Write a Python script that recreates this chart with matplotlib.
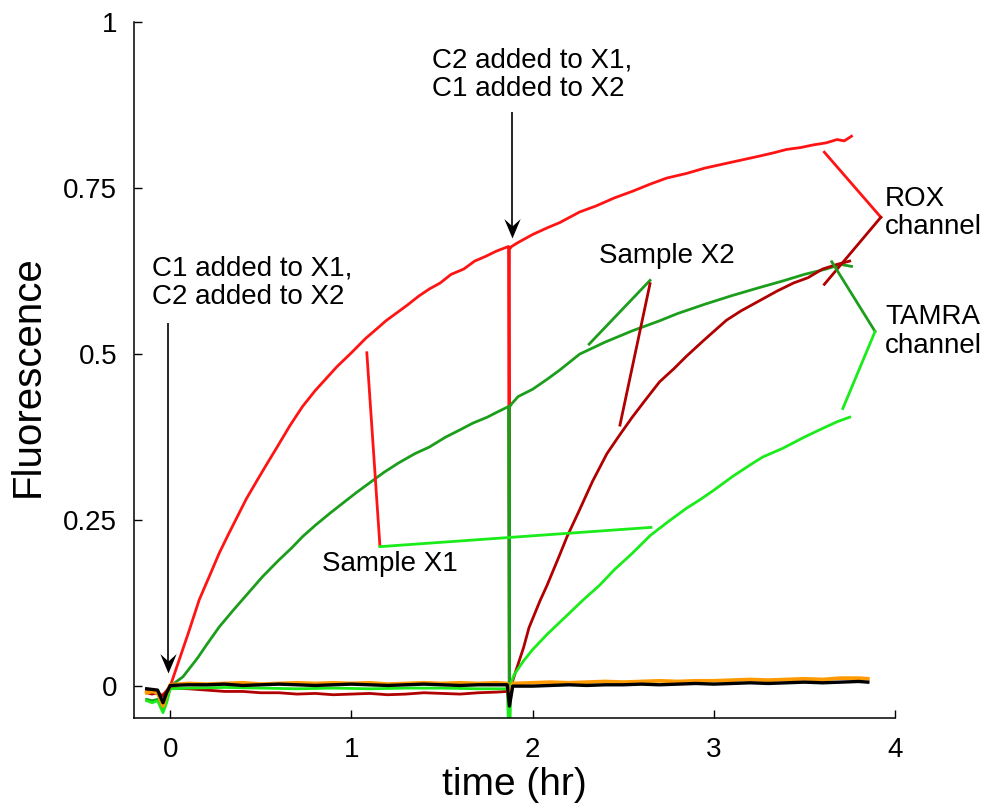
import matplotlib
matplotlib.use("Agg")
import matplotlib.pyplot as plt
from matplotlib.path import Path

plt.rcParams['font.family'] = ['Liberation Sans', 'DejaVu Sans']

# ---------------- data ----------------
rox_x1_t = [-0.13, -0.10, -0.07, -0.05, -0.03, 0.00, 0.05, 0.10, 0.16, 0.22, 0.27, 0.32, 0.37,
            0.42, 0.48, 0.53, 0.59, 0.66, 0.73, 0.80, 0.86, 0.92, 1.00, 1.08, 1.14, 1.19, 1.25,
            1.31, 1.37, 1.43, 1.49, 1.55, 1.62, 1.68, 1.74, 1.80, 1.867, 1.872, 1.872, 1.884, 1.92,
            2.00, 2.08, 2.15, 2.26, 2.35, 2.45, 2.55, 2.65, 2.74, 2.85, 2.95, 3.05, 3.15, 3.25,
            3.33, 3.40, 3.48, 3.55, 3.62, 3.68, 3.72, 3.76]
rox_x1_y = [-0.005, -0.006, -0.008, -0.015, -0.010, 0.000, 0.040, 0.080, 0.130, 0.168, 0.200,
            0.228, 0.255, 0.282, 0.310, 0.333, 0.360, 0.392, 0.421, 0.445, 0.463, 0.481, 0.502,
            0.524, 0.538, 0.550, 0.562, 0.574, 0.587, 0.598, 0.607, 0.620, 0.628, 0.640, 0.647,
            0.655, 0.662, -0.10, 0.658, 0.662, 0.668, 0.680, 0.690, 0.698, 0.714, 0.723, 0.735,
            0.745, 0.756, 0.765, 0.772, 0.780, 0.786, 0.792, 0.798, 0.803, 0.808, 0.811, 0.815,
            0.818, 0.823, 0.821, 0.828]

tamra_x1_t = [-0.13, -0.10, -0.07, -0.04, -0.02, 0.00, 0.07, 0.15, 0.20, 0.27, 0.35, 0.43, 0.51,
              0.60, 0.67, 0.73, 0.80, 0.88, 0.95, 1.03, 1.10, 1.18, 1.26, 1.35, 1.43, 1.52, 1.60,
              1.67, 1.75, 1.80, 1.867, 1.872, 1.872, 1.884, 1.92, 2.00, 2.08, 2.15, 2.26, 2.40,
              2.55, 2.70, 2.80, 2.95, 3.10, 3.25, 3.38, 3.50, 3.62, 3.70, 3.76]
tamra_x1_y = [-0.020, -0.022, -0.020, -0.035, -0.022, 0.000, 0.014, 0.042, 0.062, 0.089, 0.115,
              0.140, 0.165, 0.190, 0.208, 0.225, 0.242, 0.260, 0.275, 0.292, 0.306, 0.322, 0.336,
              0.350, 0.360, 0.375, 0.386, 0.396, 0.405, 0.412, 0.421, -0.10, 0.420, 0.425, 0.436,
              0.447, 0.462, 0.476, 0.500, 0.518, 0.535, 0.550, 0.561, 0.575, 0.588, 0.600, 0.610,
              0.620, 0.628, 0.635, 0.632]

rox_x2_t = [-0.13, -0.10, -0.07, -0.04, -0.02, 0.00, 0.10, 0.20, 0.30, 0.40, 0.50, 0.60, 0.70,
            0.80, 0.90, 1.00, 1.10, 1.20, 1.30, 1.40, 1.50, 1.60, 1.70, 1.80, 1.86, 1.875, 1.89,
            1.91, 1.95, 1.98, 2.04, 2.08, 2.15, 2.19, 2.26, 2.33, 2.41, 2.48, 2.55, 2.62, 2.70,
            2.78, 2.85, 2.95, 3.07, 3.15, 3.25, 3.35, 3.44, 3.52, 3.60, 3.68, 3.75]
rox_x2_y = [-0.010, -0.012, -0.010, -0.015, -0.008, -0.003, -0.004, -0.006, -0.008, -0.008, -0.010,
            -0.010, -0.012, -0.011, -0.013, -0.012, -0.011, -0.013, -0.012, -0.010, -0.011, -0.012,
            -0.010, -0.009, -0.008, -0.005, 0.008, 0.025, 0.058, 0.088, 0.128, 0.152, 0.198, 0.225,
            0.266, 0.308, 0.350, 0.378, 0.405, 0.430, 0.458, 0.478, 0.497, 0.522, 0.551, 0.565,
            0.580, 0.595, 0.607, 0.615, 0.628, 0.635, 0.640]

tamra_x2_t = [-0.13, -0.10, -0.07, -0.04, -0.02, 0.00, 0.10, 0.30, 0.50, 0.70, 0.90, 1.10, 1.30,
              1.50, 1.70, 1.86, 1.872, 1.88, 1.90, 1.95, 2.00, 2.08, 2.18, 2.28, 2.37, 2.45, 2.55,
              2.65, 2.75, 2.85, 2.92, 3.00, 3.10, 3.20, 3.27, 3.38, 3.50, 3.60, 3.68, 3.75]
tamra_x2_y = [-0.022, -0.025, -0.022, -0.040, -0.025, -0.004, -0.003, -0.002, -0.003, -0.004,
              -0.003, -0.004, -0.003, -0.003, -0.004, -0.004, -0.10, 0.005, 0.018, 0.038, 0.055,
              0.078, 0.104, 0.130, 0.152, 0.175, 0.200, 0.227, 0.248, 0.268, 0.280, 0.295, 0.315,
              0.333, 0.345, 0.358, 0.375, 0.388, 0.398, 0.405]

ctrl_t = [-0.13, -0.10, -0.07, -0.04, -0.02, 0.00,
          0.1, 0.2, 0.3, 0.4, 0.5, 0.6, 0.7, 0.8, 0.9, 1.0, 1.1, 1.2, 1.3, 1.4, 1.5, 1.6, 1.7, 1.8,
          1.86, 1.872, 1.89,
          2.0, 2.1, 2.2, 2.3, 2.4, 2.5, 2.6, 2.7, 2.8, 2.9, 3.0, 3.1, 3.2, 3.3, 3.4, 3.5, 3.6, 3.7, 3.8,
          3.85]
orange_y = [-0.010, -0.008, -0.010, -0.030, -0.012, 0.002,
            0.004, 0.003, 0.004, 0.005, 0.003, 0.004, 0.005, 0.004, 0.005, 0.004, 0.005, 0.003,
            0.004, 0.005, 0.004, 0.005, 0.004, 0.005,
            0.004, -0.025, 0.004,
            0.005, 0.006, 0.005, 0.006, 0.007, 0.006, 0.007, 0.008, 0.007, 0.008, 0.008, 0.009,
            0.010, 0.009, 0.010, 0.011, 0.010, 0.012, 0.012,
            0.011]
black_y = [-0.004, -0.005, -0.006, -0.025, -0.010, 0.001,
           0.002, 0.002, 0.003, 0.001, 0.002, 0.003, 0.002, 0.001, 0.002, 0.003, 0.002, 0.001,
           0.002, 0.003, 0.002, 0.001, 0.002, 0.002,
           0.002, -0.030, 0.000,
           0.000, 0.001, 0.002, 0.001, 0.002, 0.002, 0.003, 0.002, 0.003, 0.004, 0.003, 0.004,
           0.005, 0.004, 0.005, 0.006, 0.005, 0.006, 0.007,
           0.006]

x_ticks = [0, 1, 2, 3, 4]
x_ticklabels = ['0', '1', '2', '3', '4']
y_ticks = [0, 0.25, 0.5, 0.75, 1]
y_ticklabels = ['0', '0.25', '0.5', '0.75', '1']

# ---------------- styling ----------------
RED = '#ff1414'
DARKRED = '#b00000'
DARKGREEN = '#1c9e1c'
BRIGHTGREEN = '#1aeb1a'
ORANGE = '#ff9a00'

fig = plt.figure(figsize=(9.88, 8.06), dpi=100)
ax = fig.add_axes([134/988, 1-718/806, (895-134)/988, (718-22)/806])

lw = 2.0
ax.plot(rox_x1_t, rox_x1_y, color=RED, lw=lw)
ax.plot(tamra_x1_t, tamra_x1_y, color=DARKGREEN, lw=lw)
ax.plot(rox_x2_t, rox_x2_y, color=DARKRED, lw=lw)
ax.plot(tamra_x2_t, tamra_x2_y, color=BRIGHTGREEN, lw=lw)
ax.plot(ctrl_t, orange_y, color=ORANGE, lw=2.7)
ax.plot(ctrl_t, black_y, color='black', lw=2.4)

ax.set_xlim(-0.2, 4.0)
ax.set_ylim(-0.048, 1.0)
ax.spines['top'].set_visible(False)
ax.spines['right'].set_visible(False)
for s in ('left', 'bottom'):
    ax.spines[s].set_linewidth(1.1)

ax.set_xticks(x_ticks)
ax.set_xticklabels(x_ticklabels)
ax.set_yticks(y_ticks)
ax.set_yticklabels(y_ticklabels)
ax.tick_params(axis='both', direction='in', length=6, width=1.0, labelsize=20)
ax.tick_params(axis='x', pad=14)
ax.tick_params(axis='y', pad=12)

ax.set_xlabel('time (hr)', fontsize=28, va='center')
ax.xaxis.set_label_coords(0.5, -0.096)
ax.set_ylabel('Fluorescence', fontsize=29, va='center')
ax.yaxis.set_label_coords(-0.139, 0.491)

# ---------------- annotations ----------------
fs = 20
ls = 1.12
ax.text(-0.102, 0.607, 'C1 added to X1,\nC2 added to X2', fontsize=fs, ha='left', va='center',
        linespacing=ls)
ax.text(1.444, 0.920, 'C2 added to X1,\nC1 added to X2', fontsize=fs, ha='left', va='center',
        linespacing=ls)
ax.text(0.84, 0.184, 'Sample X1', fontsize=fs, ha='left', va='center')
ax.text(2.368, 0.648, 'Sample X2', fontsize=fs, ha='left', va='center')
ax.text(3.945, 0.712, 'ROX\nchannel', fontsize=fs, ha='left', va='center', linespacing=ls,
        clip_on=False)
ax.text(3.945, 0.534, 'TAMRA\nchannel', fontsize=fs, ha='left', va='center', linespacing=ls,
        clip_on=False)

# notched arrow heads (tip at origin, pointing down)
head = Path([(0, 0), (-0.42, 1.0), (0, 0.62), (0.42, 1.0), (0, 0)],
            [Path.MOVETO, Path.LINETO, Path.LINETO, Path.LINETO, Path.CLOSEPOLY])
arrows = [((-0.014, 0.547), (-0.014, 0.020)), ((1.887, 0.864), (1.887, 0.675))]
for (x0, y0), (x1, y1) in arrows:
    ax.plot([x0, x1], [y0, y1 + 0.01], color='black', lw=1.2, solid_capstyle='butt')
    ax.plot([x1], [y1], marker=head, markersize=28, color='black', markeredgewidth=0)

plw = 2.0
# Sample X1 pointers
ax.plot([1.085, 1.157], [0.502, 0.212], color=RED, lw=plw)
ax.plot([1.157, 2.653], [0.210, 0.239], color=BRIGHTGREEN, lw=plw)
# Sample X2 pointers
ax.plot([2.312, 2.648], [0.515, 0.611], color=DARKGREEN, lw=plw)
ax.plot([2.648, 2.482], [0.606, 0.393], color=DARKRED, lw=plw)
# ROX channel pointers
ax.plot([3.610, 3.922], [0.804, 0.706], color=RED, lw=plw, clip_on=False)
ax.plot([3.922, 3.610], [0.706, 0.605], color=DARKRED, lw=plw, clip_on=False)
# TAMRA channel pointers
ax.plot([3.651, 3.890], [0.639, 0.534], color=DARKGREEN, lw=plw, clip_on=False)
ax.plot([3.890, 3.712], [0.534, 0.418], color=BRIGHTGREEN, lw=plw, clip_on=False)

fig.savefig('out.png', dpi=100)
